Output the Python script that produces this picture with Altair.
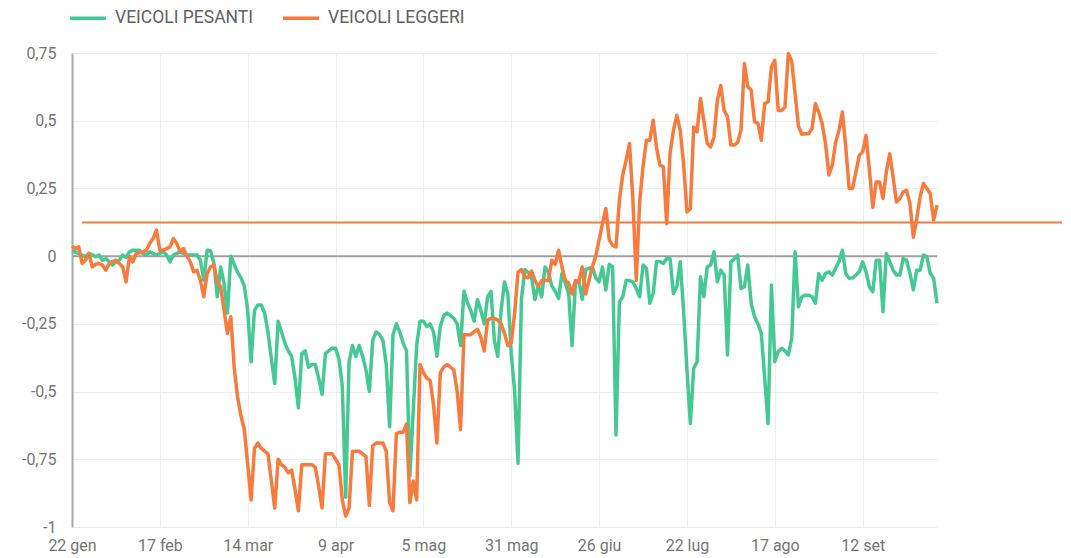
import altair as alt
import pandas as pd

START_DATE = "2020-01-22"
END_DATE = "2020-10-04"
SERIES_NAMES = ["VEICOLI PESANTI", "VEICOLI LEGGERI"]
COLORS = ["#46c894", "#f77b3c"]

PESANTI = [
    0.02, 0.016, 0.01, 0.004, -0.002, 0.01, 0.005, -0.002, 0.004, -0.015,
    -0.009, -0.021, -0.033, -0.021, -0.015, 0.004, -0.005, 0.016, 0.022, 0.022,
    0.022, 0.01, 0.004, 0.016, 0.01, 0.004, 0.01, 0.016, 0.004, -0.021,
    0.004, 0.01, 0.016, 0.01, 0.004, 0.004, 0.004, 0.004, -0.015, -0.089,
    0.022, 0.02, -0.027, -0.15, -0.04, -0.1, -0.21, 0.0, -0.03, -0.06,
    -0.08, -0.11, -0.2, -0.39, -0.2, -0.18, -0.18, -0.21, -0.28, -0.38,
    -0.47, -0.24, -0.28, -0.32, -0.35, -0.37, -0.45, -0.56, -0.36, -0.35,
    -0.41, -0.4, -0.4, -0.45, -0.51, -0.36, -0.35, -0.34, -0.34, -0.38,
    -0.48, -0.89, -0.39, -0.33, -0.37, -0.33, -0.37, -0.42, -0.5, -0.31,
    -0.28, -0.29, -0.31, -0.4, -0.63, -0.29, -0.25, -0.28, -0.32, -0.35,
    -0.81, -0.57, -0.33, -0.24, -0.24, -0.26, -0.25, -0.28, -0.37, -0.26,
    -0.22, -0.21, -0.22, -0.23, -0.25, -0.33, -0.13, -0.17, -0.2, -0.24,
    -0.16, -0.2, -0.25, -0.15, -0.13, -0.31, -0.37, -0.2, -0.095, -0.14,
    -0.36, -0.5, -0.765, -0.16, -0.05, -0.06, -0.076, -0.16, -0.11, -0.15,
    -0.04, -0.06, -0.11, -0.13, -0.156, -0.064, -0.1, -0.14, -0.33, -0.1,
    -0.09, -0.16, -0.05, -0.045, -0.04, -0.08, -0.095, -0.04, -0.125, -0.03,
    -0.04, -0.66, -0.17, -0.15, -0.09, -0.09, -0.095, -0.12, -0.15, -0.033,
    -0.045, -0.174, -0.138, -0.02, -0.02, -0.027, -0.009, -0.01, -0.138, -0.113,
    -0.021, -0.2, -0.42, -0.618, -0.414, -0.39, -0.076, -0.15, -0.039, -0.033,
    0.016, -0.095, -0.052, -0.07, -0.365, -0.021, -0.01, 0.004, -0.12, -0.113,
    -0.033, -0.174, -0.224, -0.25, -0.285, -0.45, -0.618, -0.107, -0.39, -0.353,
    -0.34, -0.35, -0.365, -0.304, 0.016, -0.187, -0.15, -0.144, -0.144, -0.15,
    -0.174, -0.064, -0.089, -0.064, -0.058, -0.07, -0.045, -0.02, 0.022, -0.064,
    -0.082, -0.08, -0.07, -0.058, -0.021, -0.058, -0.113, -0.132, -0.015, -0.015,
    -0.205, 0.01, -0.02, -0.052, -0.07, -0.07, -0.009, -0.015, -0.064, -0.125,
    -0.052, -0.052, 0.004, -0.002, -0.064, -0.082, -0.174,
]

LEGGERI = [
    0.037, 0.028, 0.034, -0.027, -0.015, 0.01, -0.04, -0.03, -0.027, -0.033,
    -0.052, -0.027, -0.02, -0.015, -0.027, -0.04, -0.095, -0.002, -0.021, 0.01,
    0.012, 0.016, 0.022, 0.047, 0.065, 0.096, 0.022, 0.022, 0.028, 0.034,
    0.065, 0.047, 0.016, 0.028, 0.0, -0.02, -0.058, -0.052, -0.089, -0.15,
    -0.064, -0.04, -0.033, -0.095, -0.113, -0.2, -0.285, -0.224, -0.41, -0.52,
    -0.59, -0.64, -0.77, -0.9, -0.71, -0.69, -0.71, -0.72, -0.73, -0.83,
    -0.93, -0.75, -0.77, -0.78, -0.8, -0.79, -0.86, -0.94, -0.77, -0.77,
    -0.77, -0.77, -0.78, -0.85, -0.93, -0.73, -0.73, -0.73, -0.75, -0.77,
    -0.9, -0.96, -0.93, -0.72, -0.72, -0.72, -0.73, -0.74, -0.92, -0.7,
    -0.69, -0.69, -0.69, -0.72, -0.91, -0.94, -0.655, -0.65, -0.65, -0.62,
    -0.91, -0.83, -0.9, -0.4, -0.43, -0.45, -0.46, -0.55, -0.69, -0.43,
    -0.41, -0.4, -0.41, -0.42, -0.5, -0.64, -0.29, -0.29, -0.29, -0.28,
    -0.27, -0.3, -0.35, -0.236, -0.23, -0.23, -0.236, -0.25, -0.285, -0.33,
    -0.32, -0.21, -0.06, -0.05, -0.076, -0.08, -0.055, -0.09, -0.113, -0.09,
    -0.09, -0.09, -0.015, -0.03, 0.022, -0.04, -0.09, -0.1, -0.14, -0.09,
    -0.095, -0.04, -0.14, -0.09, -0.04, 0.0, 0.06, 0.12, 0.176, 0.06,
    0.04, 0.034, 0.207, 0.3, 0.354, 0.416, 0.207, -0.09, 0.2, 0.33,
    0.428, 0.428, 0.502, 0.4, 0.336, 0.33, 0.12, 0.38, 0.465, 0.52,
    0.465, 0.342, 0.163, 0.175, 0.477, 0.459, 0.582, 0.5, 0.416, 0.403,
    0.44, 0.576, 0.63, 0.538, 0.514, 0.41, 0.41, 0.42, 0.465, 0.711,
    0.625, 0.613, 0.496, 0.49, 0.428, 0.563, 0.569, 0.699, 0.723, 0.538,
    0.538, 0.55, 0.748, 0.72, 0.6, 0.48, 0.45, 0.452, 0.452, 0.47,
    0.563, 0.532, 0.49, 0.416, 0.3, 0.336, 0.42, 0.465, 0.532, 0.403,
    0.25, 0.25, 0.31, 0.372, 0.385, 0.446, 0.317, 0.18, 0.274, 0.274,
    0.213, 0.31, 0.378, 0.293, 0.2, 0.213, 0.237, 0.243, 0.194, 0.07,
    0.138, 0.219, 0.268, 0.25, 0.231, 0.133, 0.188,
]

TICK_DATES = ["2020-01-22", "2020-02-17", "2020-03-14", "2020-04-09", "2020-05-05",
              "2020-05-31", "2020-06-26", "2020-07-22", "2020-08-17", "2020-09-12"]
MONTHS_IT = ["gen", "feb", "mar", "apr", "mag", "giu", "lug", "ago", "set", "ott", "nov", "dic"]
Y_TICKS = [-1, -0.75, -0.5, -0.25, 0, 0.25, 0.5, 0.75]
REF_VALUE = 0.124
REF_DATES = ["2020-01-25", "2020-11-10"]


def to_dt(s):
    y, m, d = (int(p) for p in s.split("-"))
    return alt.DateTime(year=y, month=m, date=d)


dates = pd.date_range(START_DATE, periods=len(PESANTI), freq="D").strftime("%Y-%m-%dT00:00:00")
df = pd.concat([
    pd.DataFrame({"date": dates, "value": PESANTI, "series": SERIES_NAMES[0]}),
    pd.DataFrame({"date": dates, "value": LEGGERI, "series": SERIES_NAMES[1]}),
], ignore_index=True)

ref_df = pd.DataFrame({"start": [REF_DATES[0] + "T00:00:00"], "end": [REF_DATES[1] + "T00:00:00"], "value": [REF_VALUE]})
zero_df = pd.DataFrame({"v": [0]})

months_js = "[" + ",".join("'%s'" % m for m in MONTHS_IT) + "]"

x_enc = alt.X(
    "date:T",
    scale=alt.Scale(domain=[to_dt(START_DATE), to_dt(END_DATE)]),
    axis=alt.Axis(
        values=[to_dt(t) for t in TICK_DATES],
        labelExpr="date(datum.value) + ' ' + " + months_js + "[month(datum.value)]",
        title=None, domain=False, ticks=False, grid=True, gridColor="#eeeeee",
        labelPadding=10, labelFontSize=16, labelColor="#757575",
        labelFlush=False, labelOverlap=False,
    ),
)
y_enc = alt.Y(
    "value:Q",
    scale=alt.Scale(domain=[-1, 0.75], nice=False, zero=False),
    axis=alt.Axis(
        values=Y_TICKS,
        labelExpr="replace(toString(datum.value), '.', ',')",
        title=None, ticks=False, domain=True, domainColor="#a8a8a8", domainWidth=2,
        grid=True, gridColor="#eeeeee", labelPadding=16, labelFontSize=16,
        labelColor="#757575",
    ),
)
color_enc = alt.Color(
    "series:N",
    scale=alt.Scale(domain=SERIES_NAMES, range=COLORS),
    legend=alt.Legend(
        orient="none", legendX=-4, legendY=-55, direction="horizontal", title=None,
        symbolType="stroke", symbolSize=1296, symbolStrokeWidth=3.5,
        labelFontSize=17.5, labelColor="#616161", columnPadding=22, labelOffset=7,
    ),
)

base = alt.Chart(df)
zero_rule = alt.Chart(zero_df).mark_rule(color="#a0a0a0", strokeWidth=2).encode(y=alt.Y("v:Q"))
green = base.transform_filter(alt.datum.series == SERIES_NAMES[0]).mark_line(
    strokeWidth=3.5, strokeJoin="round").encode(x=x_enc, y=y_enc, color=color_enc)
orange = base.transform_filter(alt.datum.series == SERIES_NAMES[1]).mark_line(
    strokeWidth=3.5, strokeJoin="round").encode(x=x_enc, y=y_enc, color=color_enc)
ref_rule = alt.Chart(ref_df).mark_rule(color=COLORS[1], strokeWidth=2, clip=False).encode(
    x=alt.X("start:T"), x2="end:T", y=alt.Y("value:Q"))

chart = alt.layer(zero_rule, green, orange, ref_rule).properties(
    width=865, height=474,
    padding={"left": 64, "top": 45, "right": 126, "bottom": 28},
    autosize=alt.AutoSizeParams(type="none"),
).configure(font="Roboto", background="white").configure_view(stroke=None)

chart.save("out.html", embed_options={"renderer": "svg", "actions": False})
